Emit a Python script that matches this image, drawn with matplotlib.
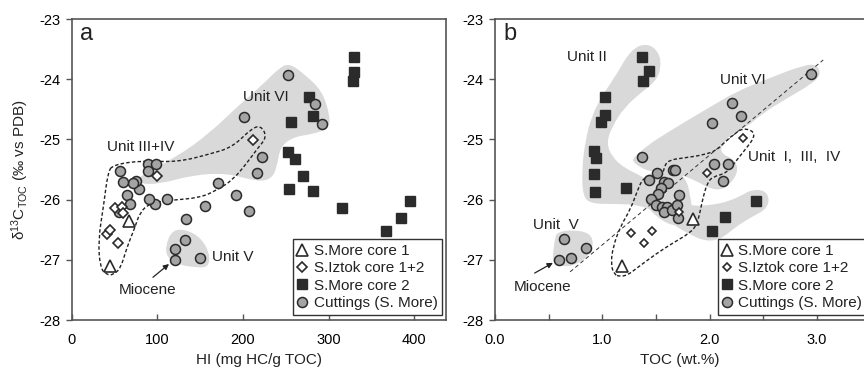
import matplotlib
matplotlib.use('Agg')
import matplotlib.pyplot as plt
from matplotlib.patches import PathPatch
from matplotlib.path import Path

plt.rcParams['font.family'] = ['Liberation Sans', 'DejaVu Sans']
plt.rcParams['mathtext.fontset'] = 'custom'
plt.rcParams['mathtext.rm'] = 'Liberation Sans'
plt.rcParams['mathtext.it'] = 'Liberation Sans:italic'

# ---- panel a: HI vs d13C ----
hi_core1 = [67, 44]
d13c_a_core1 = [-26.36, -27.10]

hi_iztok = [50, 58, 60, 41, 45, 54, 100, 212]
d13c_a_iztok = [-26.14, -26.12, -26.23, -26.57, -26.50, -26.72, -25.60, -25.01]

hi_core2 = [330, 330, 329, 277, 282, 256, 253, 261, 270, 254, 282, 316, 395, 385, 367]
d13c_a_core2 = [-23.63, -23.88, -24.03, -24.30, -24.61, -24.71, -25.21, -25.33,
                -25.61, -25.82, -25.86, -26.14, -26.02, -26.31, -26.52]

hi_cuttings = [253, 284, 292, 201, 222, 216, 171, 192, 207, 156, 133, 111, 97, 90, 78,
               64, 68, 55, 75, 71, 60, 56, 89, 98, 89, 132, 121, 120, 150]
d13c_a_cuttings = [-23.93, -24.41, -24.74, -24.63, -25.29, -25.56, -25.72, -25.92, -26.19,
                   -26.11, -26.32, -25.99, -26.07, -25.99, -25.82, -25.93, -26.07, -26.20,
                   -25.69, -25.72, -25.71, -25.52, -25.41, -25.41, -25.52, -26.67, -26.82,
                   -27.00, -26.97]

# envelopes drawn by hand in the original (panel a)
unit6_a_hi = [75, 122.8, 161.4, 193, 219.9, 243.3, 255, 272, 293, 302, 300, 282,
              258.5, 243.3, 239.8, 233, 216.4, 181.3, 141.5, 102.9, 78]
unit6_a_d = [-25.64, -25.29, -24.89, -24.46, -24.13, -23.80, -23.74, -23.92, -24.20,
             -24.63, -24.82, -24.91, -24.96, -25.13, -25.46, -25.66, -25.70, -25.56,
             -25.59, -25.74, -25.74]
unit5_a_hi = [109, 117, 134.5, 151, 161, 160, 146, 124, 112]
unit5_a_d = [-26.79, -26.50, -26.50, -26.64, -26.89, -27.12, -27.13, -27.08, -26.97]
unit34_a_hi = [48, 83, 122.8, 165, 188.3, 210, 221, 228, 217, 204.7, 188.3, 169.6,
               149.7, 114.6, 91.2, 79.5, 73.7, 64.3, 57, 48, 40.9, 33, 30.7, 37, 42]
unit34_a_d = [-25.42, -25.35, -25.38, -25.23, -25.12, -24.82, -24.77, -24.96, -25.15,
              -25.39, -25.67, -25.84, -25.97, -26.01, -26.06, -26.21, -26.46, -26.79,
              -27.14, -27.25, -27.25, -27.14, -26.67, -26.10, -25.55]

# ---- panel b: TOC vs d13C ----
toc_core1 = [1.85, 1.18]
d13c_b_core1 = [-26.32, -27.10]

toc_iztok = [2.31, 1.98, 1.72, 1.27, 1.46, 1.39]
d13c_b_iztok = [-24.98, -25.56, -26.20, -26.55, -26.52, -26.72]

toc_core2 = [1.37, 1.44, 1.38, 1.03, 1.03, 0.99, 0.92, 0.94, 0.92, 0.93, 1.22, 2.43, 2.14, 2.02]
d13c_b_core2 = [-23.63, -23.86, -24.03, -24.30, -24.59, -24.71, -25.19, -25.31, -25.58,
                -25.87, -25.81, -26.02, -26.29, -26.52]

toc_cuttings = [2.95, 2.21, 2.29, 2.02, 1.37, 2.04, 2.17, 2.13, 1.51, 1.66, 1.68, 1.44,
                1.58, 1.61, 1.55, 1.72, 1.52, 1.45, 1.50, 1.56, 1.60, 1.58, 1.65, 1.70,
                1.71, 0.64, 0.60, 0.71, 0.85]
d13c_b_cuttings = [-23.91, -24.39, -24.61, -24.72, -25.29, -25.41, -25.41, -25.69, -25.56,
                   -25.51, -25.51, -25.68, -25.71, -25.73, -25.81, -25.92, -25.91, -25.99,
                   -26.09, -26.12, -26.12, -26.20, -26.17, -26.09, -26.31, -26.65, -27.00,
                   -26.97, -26.80]

unit2_b_toc = [1.27, 1.42, 1.53, 1.55, 1.50, 1.37, 1.21, 1.09, 1.04, 1.09, 1.21, 1.37, 1.49,
               1.63, 1.82, 2.03, 2.19, 2.31, 2.40, 2.52, 2.56, 2.52, 2.40, 2.255, 2.16,
               2.07, 1.94, 1.82, 1.68, 1.52, 1.35, 1.12, 0.90, 0.82, 0.81, 0.84, 0.90,
               1.00, 1.13]
unit2_b_d = [-23.50, -23.40, -23.55, -23.81, -24.03, -24.21, -24.46, -24.79, -25.06, -25.29,
             -25.48, -25.61, -25.76, -25.97, -26.11, -26.09, -26.02, -25.92, -25.83, -25.85,
             -26.01, -26.17, -26.28, -26.44, -26.58, -26.68, -26.68, -26.58, -26.44, -26.22,
             -26.09, -26.07, -26.07, -25.95, -25.51, -25.04, -24.62, -24.27, -23.93]
unit6_b_toc = [1.30, 1.42, 1.63, 1.94, 2.255, 2.56, 2.87, 3.00, 3.04, 2.95, 2.72, 2.50,
               2.35, 2.22, 2.12, 2.10, 2.24, 2.27, 2.14, 2.00, 1.88, 1.72, 1.57, 1.44,
               1.35, 1.28]
unit6_b_d = [-25.29, -25.10, -24.86, -24.53, -24.20, -23.98, -23.77, -23.75, -23.93, -24.08,
             -24.32, -24.56, -24.79, -24.89, -25.06, -25.23, -25.34, -25.56, -25.84, -25.82,
             -25.69, -25.58, -25.56, -25.53, -25.46, -25.36]
cluster_b_toc = [1.35, 1.49, 1.65, 1.78, 1.82, 1.84, 1.78, 1.65, 1.49, 1.40]
cluster_b_d = [-25.64, -25.54, -25.48, -25.64, -25.92, -26.21, -26.41, -26.44, -26.27, -26.06]
unit5_b_toc = [0.58, 0.73, 0.89, 0.92, 0.87, 0.76, 0.64, 0.54, 0.54, 0.56]
unit5_b_d = [-26.54, -26.50, -26.56, -26.75, -26.94, -27.08, -27.12, -27.06, -26.89, -26.64]
unit134_b_toc = [1.165, 1.24, 1.32, 1.51, 1.66, 1.82, 1.88, 1.91, 1.94, 1.98, 2.03, 2.16,
                 2.255, 2.35, 2.42, 2.40, 2.31, 2.255, 2.16, 2.07, 1.94, 1.75, 1.63, 1.58,
                 1.57, 1.49, 1.43, 1.37, 1.32, 1.26, 1.165, 1.10, 1.08, 1.11]
unit134_b_d = [-27.28, -27.25, -27.14, -26.89, -26.72, -26.55, -26.42, -26.22, -25.96, -25.72,
               -25.62, -25.56, -25.34, -25.13, -24.96, -24.85, -24.82, -24.88, -25.01, -25.18,
               -25.26, -25.31, -25.34, -25.43, -25.56, -25.59, -25.62, -25.67, -25.89, -26.17,
               -26.46, -26.79, -27.07, -27.24]
trend_b_toc = [0.70, 3.06]
trend_b_d = [-27.20, -23.68]

y_ticks = [-23, -24, -25, -26, -27, -28]
y_ticklabels = ['-23', '-24', '-25', '-26', '-27', '-28']
hi_ticks = [0, 100, 200, 300, 400]
toc_ticks = [0, 1, 2, 3]
toc_ticklabels = ['0.0', '1.0', '2.0', '3.0']

SHADE = '#d9d9d9'
EDGE = '#2a2a2a'
AXC = '#555555'


def smooth_path(xs, ys):
    # closed quadratic-bezier path through the midpoints, using the sketch points as controls
    pts = list(zip(xs, ys))
    n = len(pts)
    mids = [((pts[i][0] + pts[(i + 1) % n][0]) / 2, (pts[i][1] + pts[(i + 1) % n][1]) / 2)
            for i in range(n)]
    verts = [mids[-1]]
    codes = [Path.MOVETO]
    for i in range(n):
        verts += [pts[i], mids[i]]
        codes += [Path.CURVE3, Path.CURVE3]
    return Path(verts, codes)


def add_shape(ax, xs, ys):
    ax.add_patch(PathPatch(smooth_path(xs, ys), facecolor=SHADE, edgecolor='none', zorder=1))


def add_outline(ax, xs, ys):
    ax.add_patch(PathPatch(smooth_path(xs, ys), facecolor='none', edgecolor='#222222',
                           linestyle=(0, (2.5, 1.6)), lw=1.0, zorder=2))


def plot_samples(ax, data, diamond_size):
    (x1, y1), (x2, y2), (x3, y3), (x4, y4) = data
    ax.plot(x1, y1, ls='none', marker='^', ms=8, mfc='white', mec=EDGE, mew=1.2,
            label='S.More core 1', zorder=4)
    ax.plot(x2, y2, ls='none', marker='D', ms=diamond_size, mfc='white', mec=EDGE, mew=1.2,
            label='S.Iztok core 1+2', zorder=4)
    ax.plot(x3, y3, ls='none', marker='s', ms=6.5, mfc='#2b2b2b', mec='#2b2b2b',
            label='S.More core 2', zorder=3)
    ax.plot(x4, y4, ls='none', marker='o', ms=7.2, mfc='#a4a4a4', mec=EDGE, mew=1.1,
            label='Cuttings (S. More)', zorder=3)


def style_axes(ax):
    for side in ['left', 'bottom', 'top', 'right']:
        ax.spines[side].set_color(AXC)
        ax.spines[side].set_linewidth(1.2)
    ax.set_ylim(-28, -23)
    ax.set_yticks(y_ticks)
    ax.set_yticklabels(y_ticklabels)
    ax.tick_params(axis='y', direction='out', length=4, width=1, color=AXC,
                   labelsize=10.5, pad=4)
    ax.tick_params(axis='x', which='both', direction='in', length=4, width=1, color=AXC,
                   labelsize=10.5, pad=9)


def add_legend(ax, x0):
    leg = ax.legend(loc='lower left', bbox_to_anchor=(x0, 0.018), fontsize=11,
                    frameon=True, fancybox=False, edgecolor='#333333', framealpha=1,
                    handlelength=0.6, handletextpad=0.45, labelspacing=0.22,
                    borderpad=0.3, borderaxespad=0)
    leg.get_frame().set_linewidth(1.0)
    for t in leg.get_texts():
        t.set_color('#222222')


fig = plt.figure(figsize=(8.64, 3.7), dpi=100)
ax_a = fig.add_axes([0.0833, 0.1351, 0.4329, 0.8135])
ax_b = fig.add_axes([0.5729, 0.1351, 0.4271, 0.8135])

# panel a
add_shape(ax_a, unit6_a_hi, unit6_a_d)
add_shape(ax_a, unit5_a_hi, unit5_a_d)
add_outline(ax_a, unit34_a_hi, unit34_a_d)
plot_samples(ax_a, [(hi_core1, d13c_a_core1), (hi_iztok, d13c_a_iztok),
                    (hi_core2, d13c_a_core2), (hi_cuttings, d13c_a_cuttings)], 5.2)
ax_a.set_xlim(0, 437.4)
ax_a.set_xticks(hi_ticks)
style_axes(ax_a)
ax_a.set_xlabel('HI (mg HC/g TOC)', fontsize=11, color='#222222', labelpad=5)
ax_a.set_ylabel(r'$\mathregular{\delta^{13}C_{TOC}}$ (‰ vs PDB)', fontsize=11,
                color='#222222', labelpad=6)
ax_a.text(9.4, -23.25, 'a', fontsize=17, ha='left', va='center', color='#222222')
ax_a.text(227, -24.30, 'Unit VI', fontsize=11, ha='center', va='center', color='#222222')
ax_a.text(80.7, -25.13, 'Unit III+IV', fontsize=11, ha='center', va='center', color='#222222')
ax_a.text(164, -26.95, 'Unit V', fontsize=11, ha='left', va='center', color='#222222')
ax_a.text(88.3, -27.50, 'Miocene', fontsize=11, ha='center', va='center', color='#222222')
ax_a.annotate('', xy=(113.5, -27.07), xytext=(94.7, -27.29),
              arrowprops=dict(arrowstyle='-|>', color='#222222', lw=0.9,
                              mutation_scale=8, shrinkA=0, shrinkB=0))
add_legend(ax_a, 0.591)

# panel b
add_shape(ax_b, unit2_b_toc, unit2_b_d)
add_shape(ax_b, unit6_b_toc, unit6_b_d)
add_shape(ax_b, cluster_b_toc, cluster_b_d)
add_shape(ax_b, unit5_b_toc, unit5_b_d)
add_outline(ax_b, unit134_b_toc, unit134_b_d)
ax_b.plot(trend_b_toc, trend_b_d, color='#333333', lw=0.7, ls=(0, (4, 3)), zorder=2)
plot_samples(ax_b, [(toc_core1, d13c_b_core1), (toc_iztok, d13c_b_iztok),
                    (toc_core2, d13c_b_core2), (toc_cuttings, d13c_b_cuttings)], 4.0)
ax_b.set_xlim(0, 3.44)
ax_b.set_xticks(toc_ticks)
ax_b.set_xticklabels(toc_ticklabels)
ax_b.set_xticks([0.5, 1.5, 2.5], minor=True)
style_axes(ax_b)
ax_b.spines['right'].set_visible(False)
ax_b.set_xlabel('TOC (wt.%)', fontsize=11, color='#222222', labelpad=5)
ax_b.text(0.075, -23.25, 'b', fontsize=17, ha='left', va='center', color='#222222')
ax_b.text(0.86, -23.63, 'Unit II', fontsize=11, ha='center', va='center', color='#222222')
ax_b.text(2.31, -24.01, 'Unit VI', fontsize=11, ha='center', va='center', color='#222222')
ax_b.text(2.36, -25.29, 'Unit  I,  III,  IV', fontsize=11, ha='left', va='center',
          color='#222222')
ax_b.text(0.57, -26.42, 'Unit  V', fontsize=11, ha='center', va='center', color='#222222')
ax_b.text(0.44, -27.45, 'Miocene', fontsize=11, ha='center', va='center', color='#222222')
ax_b.annotate('', xy=(0.54, -27.05), xytext=(0.37, -27.22),
              arrowprops=dict(arrowstyle='-|>', color='#222222', lw=0.9,
                              mutation_scale=8, shrinkA=0, shrinkB=0))
add_legend(ax_b, 0.604)

fig.savefig('out.png', dpi=100)
